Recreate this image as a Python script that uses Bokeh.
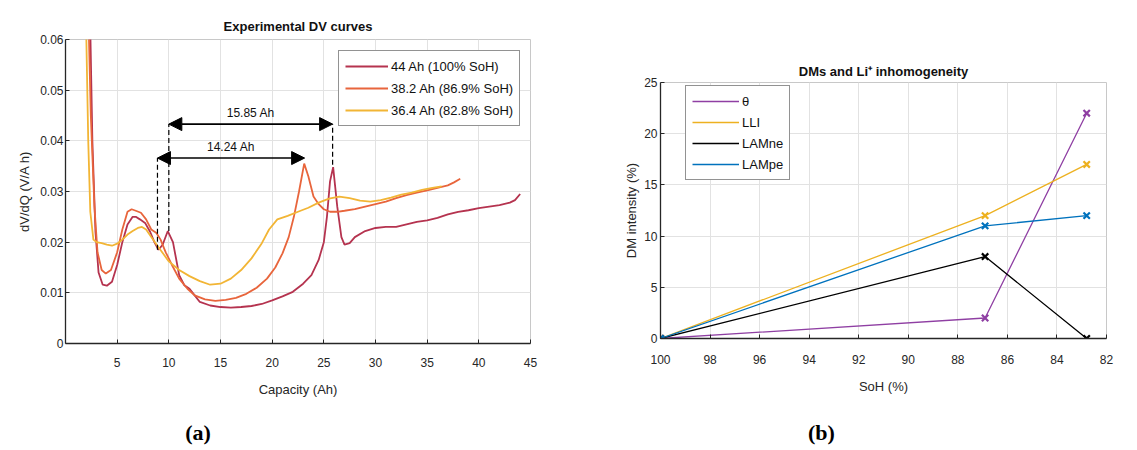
from bokeh.plotting import figure
from bokeh.layouts import row, column
from bokeh.models import (Range1d, FixedTicker, CustomJSTickFormatter, Legend, LegendItem,
                          Arrow, NormalHead)
from bokeh.core.properties import value
from bokeh.embed import file_html
from bokeh.resources import INLINE

FONT = "Liberation Sans"
TXT = "#262626"

# ---------------- (a) Experimental DV curves ----------------
dv_labels = ["44 Ah (100% SoH)", "38.2 Ah (86.9% SoH)", "36.4 Ah (82.8% SoH)"]
dv_colors = ["#b5334f", "#e8653c", "#f2b535"]

cap_44 = [2.4, 2.6, 2.9, 3.2, 3.6, 4.0, 4.5, 5.0, 5.5, 6.0, 6.5, 6.8, 7.2, 7.7, 8.2, 8.6, 9.0,
          9.4, 9.9, 10.4, 11.0, 11.5, 12.0, 12.5, 13.0, 14.0, 15.0, 16.0, 17.0, 18.0, 19.0,
          20.0, 21.0, 22.0, 23.0, 23.8, 24.5, 25.0, 25.3, 25.6, 25.9, 26.3, 26.7, 27.0, 27.5,
          28.0, 29.0, 30.0, 31.0, 32.0, 33.0, 34.0, 35.0, 36.0, 37.0, 38.0, 39.0, 40.0, 41.0,
          42.0, 43.0, 43.5, 44.0]
dv_44 = [0.062, 0.040, 0.022, 0.014, 0.0116, 0.0114, 0.0122, 0.0155, 0.020, 0.0235, 0.025,
         0.025, 0.0245, 0.0238, 0.022, 0.020, 0.0185, 0.0195, 0.0222, 0.020, 0.0135, 0.0115,
         0.0108, 0.0095, 0.0082, 0.0075, 0.0072, 0.0071, 0.0072, 0.0074, 0.0078, 0.0085,
         0.0093, 0.0102, 0.0118, 0.0135, 0.0165, 0.020, 0.025, 0.032, 0.0348, 0.027, 0.021,
         0.0195, 0.0198, 0.021, 0.0222, 0.0228, 0.023, 0.023, 0.0235, 0.024, 0.0243, 0.0248,
         0.0255, 0.026, 0.0263, 0.0267, 0.027, 0.0273, 0.0278, 0.0283, 0.0295]

cap_382 = [2.25, 2.45, 2.8, 3.1, 3.5, 3.9, 4.4, 5.0, 5.5, 6.0, 6.4, 6.8, 7.3, 7.8, 8.3, 8.8,
           9.2, 9.7, 10.3, 11.0, 11.8, 12.5, 13.5, 14.5, 15.5, 16.5, 17.5, 18.5, 19.5, 20.3,
           21.0, 21.6, 22.1, 22.6, 23.1, 23.5, 24.0, 24.5, 25.0, 25.6, 26.3, 27.0, 28.0, 29.0,
           30.0, 31.0, 32.0, 33.0, 34.0, 35.0, 36.0, 37.0, 37.6, 38.2]
dv_382 = [0.062, 0.045, 0.027, 0.018, 0.0145, 0.0138, 0.0145, 0.018, 0.0225, 0.026, 0.0265,
          0.0262, 0.0258, 0.0245, 0.0225, 0.0218, 0.0205, 0.018, 0.0155, 0.0128, 0.0108,
          0.0095, 0.0087, 0.0084, 0.0086, 0.009, 0.0098, 0.011, 0.0128, 0.015, 0.0178, 0.021,
          0.025, 0.030, 0.0355, 0.033, 0.029, 0.0275, 0.0265, 0.026, 0.026, 0.0262, 0.0265,
          0.027, 0.0275, 0.028, 0.0287, 0.0293, 0.0298, 0.0302, 0.0307, 0.0312, 0.0318, 0.0325]

cap_364 = [2.0, 2.2, 2.4, 2.7, 3.0, 3.5, 4.0, 4.5, 5.0, 5.5, 6.0, 6.5, 7.0, 7.4, 7.8, 8.3, 9.0,
           10.0, 11.0, 12.0, 13.0, 14.0, 15.0, 16.0, 17.0, 18.0, 19.0, 19.7, 20.5, 21.5, 22.5,
           23.5, 24.5, 25.5, 26.5, 27.5, 28.5, 29.5, 30.5, 31.5, 32.5, 33.5, 34.5, 35.5, 36.4]
dv_364 = [0.062, 0.040, 0.026, 0.0205, 0.020, 0.0198, 0.0195, 0.0193, 0.0197, 0.0205, 0.0215,
          0.0222, 0.0228, 0.023, 0.0225, 0.021, 0.019, 0.0162, 0.0145, 0.0133, 0.0123, 0.0116,
          0.0118, 0.0128, 0.0145, 0.0168, 0.0198, 0.0225, 0.0245, 0.0252, 0.026, 0.0268,
          0.0278, 0.0286, 0.029, 0.0287, 0.0282, 0.028, 0.0283, 0.0288, 0.0294, 0.0298,
          0.0303, 0.0307, 0.031]

arrow_x0 = [8.9, 10.0]
arrow_x1 = [23.14, 25.85]
arrow_y = [0.0366, 0.0433]
arrow_texts = ["14.24 Ah", "15.85 Ah"]
dash_x = [8.9, 10.0, 25.85]
dash_y0 = [0.0185, 0.0222, 0.0353]
dash_y1 = [0.0366, 0.0433, 0.0433]

# ---------------- (b) DMs and Li+ inhomogeneity ----------------
soh = [100, 86.9, 82.8]
dm_names = ["θ", "LLI", "LAMne", "LAMpe"]
dm_colors = ["#8f3fa3", "#edb120", "#000000", "#0072bd"]
dm_theta = [0, 2, 22]
dm_lli = [0, 12, 17]
dm_lamne = [0, 8, 0]
dm_lampe = [0, 11, 12]

panel_tags = ["(a)", "(b)"]

WA, WB = 600, 535
H_PLOT, H_TAG = 415, 33


def style(p, xstand, ystand, xlab_st, ylab_st):
    for ax, st, lst in ((p.xaxis[0], xstand, xlab_st), (p.yaxis[0], ystand, ylab_st)):
        ax.major_tick_in = 4
        ax.major_tick_out = 0
        ax.minor_tick_line_color = None
        ax.axis_line_color = TXT
        ax.axis_line_width = 1.3
        ax.major_tick_line_color = TXT
        ax.major_label_text_font = FONT
        ax.major_label_text_font_size = "12px"
        ax.major_label_text_color = TXT
        ax.major_label_standoff = st
        ax.axis_label_text_font = FONT
        ax.axis_label_text_font_style = "normal"
        ax.axis_label_text_font_size = "13px"
        ax.axis_label_text_color = TXT
        ax.axis_label_standoff = lst
    p.grid.grid_line_color = "#e2e2e2"
    p.outline_line_color = "#c8c8c8"
    p.title.text_font = FONT
    p.title.text_font_style = "bold"
    p.title.text_font_size = "13px"
    p.title.text_color = "#111111"
    p.title.align = "center"


def tag_fig(width, text, cx):
    t = figure(width=width, height=H_TAG, x_range=Range1d(0, width), y_range=Range1d(0, H_TAG),
               output_backend="svg", toolbar_location=None, min_border=0,
               min_border_left=0, min_border_right=0, min_border_top=0, min_border_bottom=0,
               x_axis_location=None, y_axis_location=None)
    t.grid.visible = False
    t.outline_line_color = None
    t.text(x=[cx], y=[H_TAG / 2], text=[text], text_align="center", text_baseline="middle",
           text_font=value("Liberation Serif"), text_font_size="22px",
           text_font_style="bold", text_color="black")
    return t


pa = figure(width=WA, height=H_PLOT, x_range=Range1d(0, 45), y_range=Range1d(0, 0.06),
            output_backend="svg", toolbar_location=None, title="Experimental DV curves",
            min_border_left=65, min_border_right=70, min_border_top=39, min_border_bottom=72,
            x_axis_label="Capacity (Ah)", y_axis_label="dV/dQ (V/A h)")
style(pa, 14, 2, 12, 5)
pa.xaxis.ticker = FixedTicker(ticks=[5, 10, 15, 20, 25, 30, 35, 40, 45])
pa.yaxis.ticker = FixedTicker(ticks=[0, 0.01, 0.02, 0.03, 0.04, 0.05, 0.06])
pa.yaxis.formatter = CustomJSTickFormatter(code="return String(Number(tick.toFixed(4)));")
pa.title.standoff = 12

curves = [(cap_44, dv_44), (cap_382, dv_382), (cap_364, dv_364)]
items = []
for (xs, ys), c, lab in zip(curves, dv_colors, dv_labels):
    r = pa.line(xs, ys, line_color=c, line_width=1.8)
    items.append(LegendItem(label=lab, renderers=[r]))

pa.segment(x0=dash_x, y0=dash_y0, x1=dash_x, y1=dash_y1, line_color="black",
           line_width=1.2, line_dash="5 3")
for x0, x1, y in zip(arrow_x0, arrow_x1, arrow_y):
    pa.add_layout(Arrow(start=NormalHead(size=13, fill_color="black", line_color="black"),
                        end=NormalHead(size=13, fill_color="black", line_color="black"),
                        x_start=x0, y_start=y, x_end=x1, y_end=y,
                        line_color="black", line_width=1.6))
text_x = [(a + b) / 2 for a, b in zip(arrow_x0, arrow_x1)]
text_y = [y + 0.0022 for y in arrow_y]
pa.text(x=text_x, y=text_y, text=arrow_texts, text_align="center", text_baseline="middle",
        text_font=value(FONT), text_font_size="12px", text_color="#111111")

leg_a = Legend(items=items, location=(273, 217), border_line_color=TXT, border_line_width=1.3,
               background_fill_color="white", background_fill_alpha=1.0,
               label_text_font=FONT, label_text_font_size="13px", label_text_color="#111111",
               glyph_width=43, glyph_height=18, label_height=18, spacing=4, padding=6,
               margin=0, label_standoff=3)
pa.add_layout(leg_a)

pb = figure(width=WB, height=H_PLOT, x_range=Range1d(100, 82), y_range=Range1d(0, 25),
            output_backend="svg", toolbar_location=None, title="DMs and Li⁺ inhomogeneity",
            min_border_left=60, min_border_right=29, min_border_top=82, min_border_bottom=77,
            x_axis_label="SoH (%)", y_axis_label="DM intensity (%)")
style(pb, 16, 3, 12, 2)
pb.xaxis.ticker = FixedTicker(ticks=[100, 98, 96, 94, 92, 90, 88, 86, 84, 82])
pb.yaxis.ticker = FixedTicker(ticks=[0, 5, 10, 15, 20, 25])
pb.title.standoff = 7

items_b = []
for name, c, ys in zip(dm_names, dm_colors, [dm_theta, dm_lli, dm_lamne, dm_lampe]):
    r = pb.line(soh, ys, line_color=c, line_width=1.3)
    pb.scatter(soh, ys, marker="x", size=9, line_width=2.2, color=c)
    items_b.append(LegendItem(label=name, renderers=[r]))

leg_b = Legend(items=items_b, location=(25, 158), border_line_color=TXT, border_line_width=1.3,
               background_fill_color="white", background_fill_alpha=1.0,
               label_text_font=FONT, label_text_font_size="13px", label_text_color="#111111",
               glyph_width=47, glyph_height=18, label_height=18, spacing=3, padding=6,
               margin=0, label_standoff=3)
pb.add_layout(leg_b)

ta = tag_fig(WA, panel_tags[0], 171)
tb = tag_fig(WB, panel_tags[1], 193)

layout = row(column(pa, ta), column(pb, tb))
open("out.html", "w").write(file_html(layout, INLINE))
